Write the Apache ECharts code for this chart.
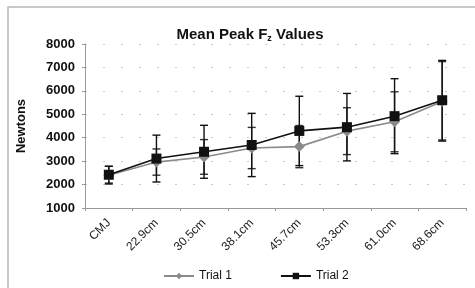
<!DOCTYPE html>
<html>
<head>
<meta charset="utf-8">
<script src="https://cdn.jsdelivr.net/npm/echarts@6/dist/echarts.min.js"></script>
<style>
  html, body { margin: 0; padding: 0; background: #fff; }
  #chart { width: 475px; height: 288px; }
</style>
</head>
<body>
<div id="chart"></div>
<script>
const categories = ['CMJ', '22.9cm', '30.5cm', '38.1cm', '45.7cm', '53.3cm', '61.0cm', '68.6cm'];
const trial1Mean = [2400, 2960, 3180, 3560, 3620, 4280, 4680, 5550];
const trial1Sd = [380, 560, 740, 880, 900, 1000, 1280, 1700];
const trial2Mean = [2420, 3110, 3400, 3690, 4290, 4450, 4920, 5600];
const trial2Sd = [360, 1000, 1130, 1350, 1480, 1440, 1600, 1700];
const yTicks = [1000, 2000, 3000, 4000, 5000, 6000, 7000, 8000];

const chart = echarts.init(document.getElementById('chart'));

// vertical whisker with caps, one per category
const errorBars = (mean, sd, color) => ({
  type: 'custom',
  z: 1,
  silent: true,
  data: mean.map((m, i) => [i, m - sd[i], m + sd[i]]),
  renderItem: (params, api) => {
    const lo = api.coord([api.value(0), api.value(1)]);
    const hi = api.coord([api.value(0), api.value(2)]);
    const w = 4;
    const style = { stroke: color, lineWidth: 1.4 };
    return {
      type: 'group',
      children: [
        { type: 'line', shape: { x1: lo[0], y1: lo[1], x2: hi[0], y2: hi[1] }, style },
        { type: 'line', shape: { x1: lo[0] - w, y1: lo[1], x2: lo[0] + w, y2: lo[1] }, style },
        { type: 'line', shape: { x1: hi[0] - w, y1: hi[1], x2: hi[0] + w, y2: hi[1] }, style },
      ],
    };
  },
});

const option = {
  animation: false,
  textStyle: { fontFamily: 'Liberation Sans, Arial, sans-serif' },
  graphic: [{
    type: 'rect',
    shape: { x: 8, y: 7, width: 480, height: 300 },
    style: { fill: 'none', stroke: '#b8b8b8', lineWidth: 1.5 },
    silent: true,
  }],
  title: {
    text: 'Mean Peak F{sub|z} Values',
    left: 245,
    textAlign: 'center',
    top: 22,
    textStyle: {
      fontSize: 15,
      fontWeight: 'bold',
      color: '#111',
      rich: {
        sub: { fontSize: 9, fontWeight: 'bold', color: '#111', verticalAlign: 'bottom', padding: [7, 0, 0, 0] },
      },
    },
  },
  legend: {
    top: 265,
    left: 158,
    itemGap: 48,
    itemWidth: 30,
    itemHeight: 8,
    textStyle: { fontSize: 12, color: '#111' },
    data: ['Trial 1', 'Trial 2'],
  },
  grid: { left: 85, right: 9, top: 44, bottom: 80 },
  xAxis: {
    type: 'category',
    data: categories,
    boundaryGap: true,
    axisLine: { lineStyle: { color: '#999' } },
    axisTick: { show: true, length: 3, lineStyle: { color: '#999' } },
    axisLabel: { rotate: 45, fontSize: 12, color: '#222', margin: 13 },
  },
  yAxis: {
    type: 'value',
    min: yTicks[0],
    max: yTicks[yTicks.length - 1],
    interval: 1000,
    name: 'Newtons',
    nameLocation: 'middle',
    nameGap: 57,
    nameTextStyle: { fontSize: 13, fontWeight: 'bold', color: '#111' },
    axisLine: { show: true, lineStyle: { color: '#999' } },
    axisTick: { show: true, length: 3, lineStyle: { color: '#999' } },
    axisLabel: { fontSize: 13, fontWeight: 'bold', color: '#111', margin: 10, formatter: (v) => String(v) },
    splitLine: { show: true, lineStyle: { color: '#c8c8c8', type: [2, 16] } },
  },
  series: [
    errorBars(trial1Mean, trial1Sd, '#333'),
    errorBars(trial2Mean, trial2Sd, '#111'),
    {
      name: 'Trial 1',
      type: 'line',
      z: 3,
      data: trial1Mean,
      symbol: 'diamond',
      symbolSize: 11,
      itemStyle: { color: '#8a8a8a' },
      lineStyle: { color: '#8a8a8a', width: 1.6 },
    },
    {
      name: 'Trial 2',
      type: 'line',
      z: 4,
      data: trial2Mean,
      symbol: 'rect',
      symbolSize: 10,
      itemStyle: { color: '#111' },
      lineStyle: { color: '#111', width: 1.6 },
    },
  ],
};

chart.setOption(option);
</script>
</body>
</html>
